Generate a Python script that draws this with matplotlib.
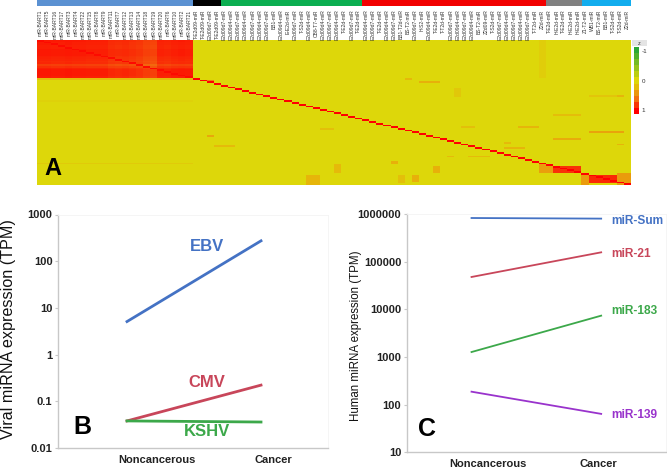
import numpy as np
import matplotlib
matplotlib.use("Agg")
import matplotlib.pyplot as plt
from matplotlib.colors import LinearSegmentedColormap

W, H = 667, 468

# top colour strip : number of columns per group
group_sizes = [22, 4, 20, 26, 5, 7]
group_colors = ["#5B91D2", "#000000", "#0BAE50", "#F20000", "#808080", "#12ADEE"]

labels_ebv = ["miR-BART1", "miR-BART5", "miR-BART16", "miR-BART17", "miR-BART3", "miR-BART4",
              "miR-BART22", "miR-BART15", "miR-BART8", "miR-BART9", "miR-BART11", "miR-BART7",
              "miR-BART12", "miR-BART13", "miR-BART14", "miR-BART18", "miR-BART19", "miR-BART20",
              "miR-BART6", "miR-BART10", "miR-BART2", "miR-BART21"]
labels_black = ["T-E2d09-miR", "T-E2d09-miR", "E2d09d7-miR", "T-E2d09-miR"]
labels_green = ["E2d09d7-miR", "E2d09d4-miR", "E2d09d7-miR", "E2d09d4-miR", "E2d09d7-miR", "E2d09d4-miR",
                "E2d09d7-miR", "BB1-miR", "E2d09d4-miR", "E-E2d-miR", "E2d09d7-miR", "T-S2d-miR",
                "E2d09d4-miR", "CB8-T7-miR", "E2d09d4-miR", "E2d09d7-miR", "E2d09d4-miR", "T-E2d-miR",
                "E2d09d7-miR", "T-E2d-miR"]
labels_red = ["E2d09d4-miR", "E2d09d7-miR", "T-E2d-miR", "E2d09d4-miR", "E2d09d7-miR", "BB1-T2d-miR",
              "BS-T2-miR", "E2d09d7-miR", "H-S2-miR", "E2d09d4-miR", "T-E2d-miR", "T-T2d-miR",
              "E2d09d7-miR", "E2d09d4-miR", "E2d09d7-miR", "E2d09d4-miR", "BS-T2-miR", "Z2d09-miR",
              "T-S2d-miR", "E2d09d7-miR", "E2d09d4-miR", "E2d09d7-miR", "E2d09d4-miR", "E2d09d7-miR",
              "T-T2d-miR", "Z2d-miR"]
labels_gray = ["T-E2d-miR", "H-E2d-miR", "T-E2d-miR", "H-E2d-miR", "H-E2d-miR"]
labels_blue = ["Z1-T2-miR", "WB1-miR", "BS-T2-miR", "BB1-miR", "T-S2d-miR", "T-S2d-miR", "Z2d-miR"]

# heatmap values
ebv_col_levels = [0.9, 0.9, 0.88, 0.88, 0.9, 0.88, 0.88, 0.86, 0.86, 0.86, 0.78, 0.76, 0.78, 0.74,
                  0.7, 0.62, 0.6, 0.84, 0.82, 0.86, 0.88, 0.86]
ebv_row_levels = [0.92, 0.9, 0.9, 0.88, 0.88, 0.92, 0.92, 0.92, 0.92, 0.88, 0.86, 0.84, 0.8, 0.82,
                  0.66, 0.76, 0.88, 0.94, 0.94, 0.94, 0.94, 0.9]
# row0, row1, col0, col1, value
patch_rows0 = [22, 35, 71, 22, 0, 24, 72, 73, 78, 70, 43, 57, 53, 32, 32, 60, 62, 59, 50, 50, 67, 28, 67,
               78, 79, 78, 55, 61, 78, 51, 23, 72, 73, 78, 77]
patch_rows1 = [23, 36, 72, 23, 22, 25, 77, 77, 82, 72, 44, 58, 54, 33, 33, 61, 63, 60, 51, 51, 68, 33, 68,
               83, 84, 84, 56, 62, 84, 52, 24, 77, 77, 83, 84]
patch_cols0 = [0, 0, 0, 52, 71, 54, 42, 56, 53, 50, 73, 73, 78, 78, 82, 82, 66, 66, 60, 68, 61, 59, 58,
               51, 82, 77, 24, 25, 38, 40, 24, 71, 73, 78, 82]
patch_cols1 = [22, 22, 22, 53, 72, 57, 43, 57, 54, 51, 77, 77, 83, 83, 83, 83, 69, 67, 62, 71, 64, 60, 59,
               52, 84, 78, 25, 28, 40, 42, 25, 73, 77, 83, 84]
patch_vals = [0.22, 0.05, 0.10, 0.24, 0.08, 0.28, 0.22, 0.28, 0.28, 0.28, 0.20, 0.30, 0.34, 0.14, 0.25,
              0.25, 0.25, 0.22, 0.18, 0.25, 0.22, 0.12, 0.22, 0.18, 0.38, 0.38, 0.32, 0.22, 0.25, 0.18,
              0.50, 0.36, 0.82, 0.85, 0.38]

scale_levels = [-1.0, -0.8, -0.6, -0.4, -0.2, 0.0, 0.2, 0.4, 0.6, 0.8, 1.0]

# panel B
groups = ["Noncancerous", "Cancer"]
ebv = [5.1, 273]
cmv = [0.038, 0.222]
kshv = [0.038, 0.036]
viral_ticks = [0.01, 0.1, 1, 10, 100, 1000]
viral_ticklabels = ["0.01", "0.1", "1", "10", "100", "1000"]

# panel C
mir_sum = [824000, 800000]
mir_21 = [47700, 157000]
mir_183 = [1270, 7360]
mir_139 = [187, 64]
human_ticks = [10, 100, 1000, 10000, 100000, 1000000]
human_ticklabels = ["10", "100", "1000", "10000", "100000", "1000000"]

plt.rcParams["font.family"] = ["Liberation Sans", "DejaVu Sans"]


def box(x0, y0, x1, y1, **kw):
    # pixel box, y going down like on the picture
    return fig.add_axes([x0 / W, 1 - y1 / H, (x1 - x0) / W, (y1 - y0) / H], **kw)


fig = plt.figure(figsize=(W / 100, H / 100), dpi=100)

# A : heatmap
heat_cmap = LinearSegmentedColormap.from_list(
    "gyr", [(0, "#2BA838"), (0.25, "#86C020"), (0.5, "#DDD80A"), (0.62, "#E6B80A"), (0.8, "#F27010"), (1, "#FF0000")])
n = sum(group_sizes)
matrix = np.zeros((n, n))
for r in range(22):
    for c in range(22):
        matrix[r, c] = (ebv_row_levels[r] + ebv_col_levels[c]) / 2
for r0, r1, c0, c1, v in zip(patch_rows0, patch_rows1, patch_cols0, patch_cols1, patch_vals):
    matrix[r0:r1, c0:c1] = v
for i in range(n):
    # diagonal hardly shows inside the first block
    matrix[i, i] = 0.96 if i < 22 else 1.0

ax = box(37, 40, 631, 185)
ax.imshow(matrix, cmap=heat_cmap, vmin=-1, vmax=1, aspect="auto", interpolation="nearest")
ax.set_xticks([])
ax.set_yticks([])
for s in ax.spines.values():
    s.set_visible(False)
ax.text(0.012, 0.035, "A", transform=ax.transAxes, fontsize=17, fontweight="bold", color="black", ha="left", va="bottom")

# group strip
strip = box(37, 0, 631, 5.5)
left = 0
for size, col in zip(group_sizes, group_colors):
    strip.barh(0, size, left=left, height=1, color=col)
    left += size
strip.set_xlim(0, n)
strip.set_ylim(-0.5, 0.5)
strip.axis("off")

# column labels
lab = box(37, 6, 631, 40)
lab.set_xlim(-0.5, n - 0.5)
lab.set_ylim(0, 1)
lab.axis("off")
all_labels = labels_ebv + labels_black + labels_green + labels_red + labels_gray + labels_blue
for i, t in enumerate(all_labels):
    lab.text(i, 0.9, t, rotation=90, ha="center", va="top", fontsize=3.6, color="#333333")

# scale
grey = box(632, 40, 647, 46)
grey.set_facecolor("#E4E4E4")
grey.set_xticks([])
grey.set_yticks([])
for s in grey.spines.values():
    s.set_visible(False)
grey.text(0.5, 0.45, "z", transform=grey.transAxes, fontsize=4, ha="center", va="center", color="#333333")
scale = box(634, 47, 639, 114)
scale.imshow(np.array(scale_levels).reshape(-1, 1), cmap=heat_cmap, vmin=-1, vmax=1, aspect="auto", interpolation="nearest")
scale.set_xticks([])
scale.set_yticks([0.2, 5, 9.8])
scale.set_yticklabels(["-1", "0", "1"], fontsize=4.5, color="#333333")
scale.tick_params(length=0, pad=2)
scale.yaxis.tick_right()
for s in scale.spines.values():
    s.set_visible(False)


def line_panel(ax, ticks, ticklabels, ylabel, ylabel_size, tick_size, label_pos):
    ax.set_yscale("log")
    ax.set_ylim(ticks[0], ticks[-1])
    ax.set_yticks(ticks)
    ax.set_yticklabels(ticklabels, fontsize=tick_size, fontweight="bold", color="#222222")
    ax.minorticks_off()
    # the category names sit off the line ends in the reference
    ax.set_xticks(label_pos)
    ax.set_xticklabels(groups, fontsize=tick_size, fontweight="bold", color="#222222")
    ax.tick_params(axis="y", length=2.5, width=0.8, color="#C8C8C8", pad=1.5)
    ax.tick_params(axis="x", length=0, pad=5)
    for side in ["top", "right"]:
        ax.spines[side].set_color("#F4F4F4")
        ax.spines[side].set_linewidth(0.6)
    for side in ["left", "bottom"]:
        ax.spines[side].set_color("#C8C8C8")
        ax.spines[side].set_linewidth(1.0)
    ax.set_ylabel(ylabel, fontsize=ylabel_size, color="#111111")


# B
axb = box(58, 214.5, 328, 448)
axb.plot([0, 1], ebv, color="#4472C4", lw=2.0)
axb.plot([0, 1], cmv, color="#C8465A", lw=2.0)
axb.plot([0, 1], kshv, color="#3CA84A", lw=2.0)
axb.set_xlim(-0.515, 1.5)
line_panel(axb, viral_ticks, viral_ticklabels, "Viral miRNA expression (TPM)", 11.6, 8, [0.224, 1.09])
axb.yaxis.set_label_coords(-0.155, 0.51)
axb.text(0.597, 204, "EBV", color="#4472C4", fontsize=12, fontweight="bold", ha="center", va="center")
axb.text(0.597, 0.257, "CMV", color="#C8465A", fontsize=12, fontweight="bold", ha="center", va="center")
axb.text(0.597, 0.0227, "KSHV", color="#3CA84A", fontsize=12, fontweight="bold", ha="center", va="center")
axb.text(-0.335, 0.0285, "B", color="black", fontsize=18, fontweight="bold", ha="center", va="center")

# C
axc = box(406.7, 214, 666, 452.3)
axc.plot([0, 1], mir_sum, color="#4472C4", lw=1.3)
axc.plot([0, 1], mir_21, color="#C8465A", lw=1.3)
axc.plot([0, 1], mir_183, color="#3CA84A", lw=1.3)
axc.plot([0, 1], mir_139, color="#9933CC", lw=1.3)
axc.set_xlim(-0.5, 1.5)
line_panel(axc, human_ticks, human_ticklabels, "Human miRNA expression (TPM)", 8.3, 8, [0.13, 0.977])
axc.yaxis.set_label_coords(-0.172, 0.488)
axc.text(1.075, 713000, "miR-Sum", color="#4472C4", fontsize=8.6, fontweight="bold", ha="left", va="center")
axc.text(1.075, 145000, "miR-21", color="#C8465A", fontsize=8.6, fontweight="bold", ha="left", va="center")
axc.text(1.075, 9380, "miR-183", color="#3CA84A", fontsize=8.6, fontweight="bold", ha="left", va="center")
axc.text(1.075, 61, "miR-139", color="#9933CC", fontsize=8.6, fontweight="bold", ha="left", va="center")
axc.text(-0.34, 31, "C", color="black", fontsize=18, fontweight="bold", ha="center", va="center")

fig.savefig("out.png", dpi=100)
